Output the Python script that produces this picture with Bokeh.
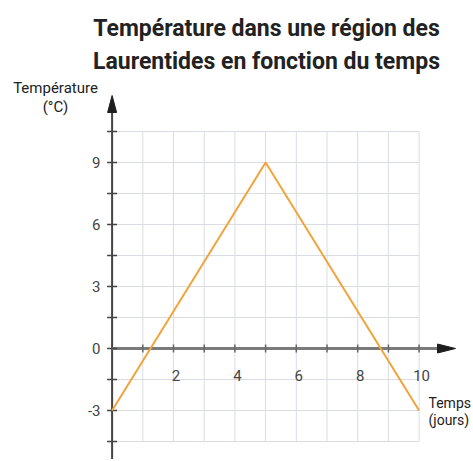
from bokeh.plotting import figure
from bokeh.models import Range1d, Label
from bokeh.core.properties import value
from bokeh.embed import file_html
from bokeh.resources import INLINE

# Data
days = [0, 5, 10]
temps = [-3, 9, -3]
x_tick_values = [2, 4, 6, 8, 10]
x_tick_labels = ["2", "4", "6", "8", "10"]
y_tick_values = [9, 6, 3, 0, -3]
y_tick_labels = ["9", "6", "3", "0", "-3"]
title_lines = ["Température dans une région des", "Laurentides en fonction du temps"]
y_title = ["Température", "(°C)"]
x_title = ["Temps", "(jours)"]

W, H = 471, 459
px_x = 30.7   # pixels per day
px_y = 20.67  # pixels per degree
x0c, y0c = 111.6, 348.0  # canvas position of origin

def sx(px):
    return (px - x0c) / px_x

def sy(py):
    return (y0c - py) / px_y

p = figure(width=W, height=H, output_backend="svg", toolbar_location=None,
           x_range=Range1d(sx(0), sx(W)),
           y_range=Range1d(sy(H), sy(0)),
           min_border=0, x_axis_type=None, y_axis_type=None)
p.outline_line_color = None
p.xgrid.visible = False
p.ygrid.visible = False
p.background_fill_color = "white"

GRID = "#d9dde2"
AX = "#444444"
FONT = "Roboto"

# grid
gx = list(range(1, 11))
p.segment(x0=gx, y0=[-4.5] * len(gx), x1=gx, y1=[10.5] * len(gx), line_color=GRID, line_width=1)
gy = [-4.5 + 1.5 * i for i in range(11)]
p.segment(x0=[0] * len(gy), y0=gy, x1=[10] * len(gy), y1=gy, line_color=GRID, line_width=1)

# axes lines
p.segment(x0=[0], y0=[sy(H + 5)], x1=[0], y1=[sy(110)], line_color=AX, line_width=2)
p.segment(x0=[0], y0=[0], x1=[sx(440)], y1=[0], line_color="#7a7a7a", line_width=3)
# arrow heads
p.patch(x=[sx(x0c - 4.5), sx(x0c), sx(x0c + 4.5)], y=[sy(112), sy(95), sy(112)],
        fill_color="#1e1e1e", line_color="#1e1e1e", line_width=1)
p.patch(x=[sx(437), sx(455), sx(437)], y=[sy(y0c - 4.5), 0, sy(y0c + 4.5)],
        fill_color="#1e1e1e", line_color="#1e1e1e", line_width=1)

# ticks
p.segment(x0=[sx(x0c - 5)] * len(gy), y0=gy, x1=[sx(x0c + 5)] * len(gy), y1=gy,
          line_color=AX, line_width=1.5)
p.segment(x0=gx, y0=[sy(y0c + 4)] * len(gx), x1=gx, y1=[sy(y0c - 4)] * len(gx),
          line_color="#666666", line_width=1.5)

# data line
p.line(days, temps, line_color="#f2a33a", line_width=2)

# tick labels
p.text(x=[v + 0.08 for v in x_tick_values], y=[sy(375)] * 5, text=x_tick_labels,
       text_font=value(FONT), text_font_size="15px", text_color="#444444",
       text_align="center", text_baseline="alphabetic")
p.text(x=[sx(100)] * 5, y=y_tick_values, text=y_tick_labels,
       text_font=value(FONT), text_font_size="15px", text_color="#444444",
       text_align="right", text_baseline="middle")

# titles
for txt, yy in zip(title_lines, [28, 61]):
    p.add_layout(Label(x=266, y=H - yy, x_units="screen", y_units="screen", text=txt,
                       text_font=FONT, text_font_size="23px", text_font_style="bold",
                       text_color="#222222", text_align="center", text_baseline="alphabetic"))

for txt, yy in zip(y_title, [87, 106]):
    p.add_layout(Label(x=55, y=H - yy, x_units="screen", y_units="screen", text=txt,
                       text_font=FONT, text_font_size="15px",
                       text_color="#222222", text_align="center", text_baseline="alphabetic"))
for txt, yy in zip(x_title, [402, 419]):
    p.add_layout(Label(x=428, y=H - yy, x_units="screen", y_units="screen", text=txt,
                       text_font=FONT, text_font_size="14px",
                       text_color="#222222", text_align="left", text_baseline="alphabetic"))

open("out.html", "w").write(file_html(p, INLINE))
